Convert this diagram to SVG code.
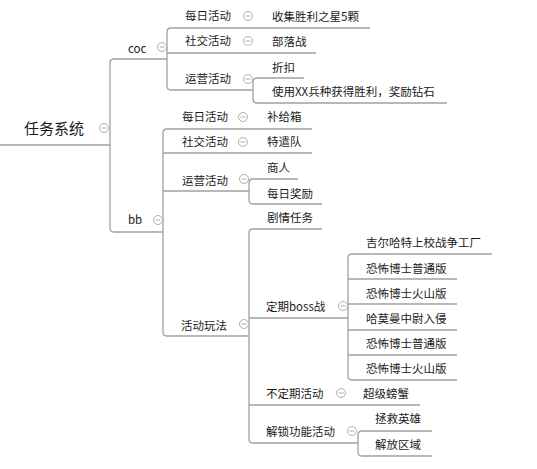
<svg xmlns="http://www.w3.org/2000/svg" width="537" height="469" viewBox="0 0 537 469">
<style>
text{font-family:"Noto Sans CJK SC","Microsoft YaHei",sans-serif;font-size:11.5px;fill:#1a1a1a}
.root{font-size:15px}
.ln{stroke:#a0a0a0;stroke-width:1.3;fill:none}
.c{fill:#fff;stroke:#b0b0b0;stroke-width:1}
.m{stroke:#b0b0b0;stroke-width:1}
</style>
<defs>
<g id="col"><circle class="c" cx="0" cy="0" r="4.5"/><line class="m" x1="-2.5" y1="0" x2="2.5" y2="0"/></g>
</defs>
<g id="connectors">
<path class="ln" d="M114,59 Q110,59 110,63 V228 Q110,232 114,232"/>
<path class="ln" d="M171,28 Q167,28 167,32 V86 Q167,90 171,90"/>
<path class="ln" d="M257,78 Q253,78 253,82 V99 Q253,103 257,103"/>
<path class="ln" d="M167,129 Q163,129 163,133 V332 Q163,336 167,336"/>
<path class="ln" d="M253,179 Q249,179 249,183 V200 Q249,204 253,204"/>
<path class="ln" d="M253,229 Q249,229 249,233 V439 Q249,443 253,443"/>
<path class="ln" d="M352,254 Q348,254 348,258 V376 Q348,380 352,380"/>
<path class="ln" d="M362,431 Q358,431 358,435 V452 Q358,456 362,456"/>
</g>
<g id="root"><text class="root" x="24" y="134">任务系统</text><path class="ln" d="M0,145 H110"/><use href="#col" x="104" y="128"/></g>
<g id="coc"><text x="128" y="53">coc</text><path class="ln" d="M114,59 H167"/><use href="#col" x="162" y="47"/></g>
<g id="coc-daily"><text x="185" y="20">每日活动</text><path class="ln" d="M171,28 H253"/><use href="#col" x="248" y="16"/></g>
<g id="coc-daily-1"><text x="272" y="21">收集胜利之星5颗</text><path class="ln" d="M253,28 H370"/></g>
<g id="coc-social"><text x="185" y="45">社交活动</text><path class="ln" d="M167,53 H253"/><use href="#col" x="248" y="41"/></g>
<g id="coc-social-1"><text x="272" y="46">部落战</text><path class="ln" d="M253,53 H316"/></g>
<g id="coc-ops"><text x="185" y="83">运营活动</text><path class="ln" d="M171,90 H253"/><use href="#col" x="248" y="79"/></g>
<g id="coc-ops-1"><text x="272" y="72">折扣</text><path class="ln" d="M257,78 H304"/></g>
<g id="coc-ops-2"><text x="272" y="96">使用XX兵种获得胜利，奖励钻石</text><path class="ln" d="M257,103 H447"/></g>
<g id="bb"><text x="128" y="224">bb</text><path class="ln" d="M114,232 H163"/><use href="#col" x="158" y="220"/></g>
<g id="bb-daily"><text x="182" y="121">每日活动</text><path class="ln" d="M167,129 H249"/><use href="#col" x="243" y="117"/></g>
<g id="bb-daily-1"><text x="267" y="121">补给箱</text><path class="ln" d="M249,129 H312"/></g>
<g id="bb-social"><text x="182" y="146">社交活动</text><path class="ln" d="M163,153 H249"/><use href="#col" x="243" y="142"/></g>
<g id="bb-social-1"><text x="267" y="146">特遣队</text><path class="ln" d="M249,153 H312"/></g>
<g id="bb-ops"><text x="182" y="185">运营活动</text><path class="ln" d="M163,191 H249"/><use href="#col" x="244" y="179"/></g>
<g id="bb-ops-1"><text x="267" y="172">商人</text><path class="ln" d="M253,179 H298"/></g>
<g id="bb-ops-2"><text x="267" y="198">每日奖励</text><path class="ln" d="M253,204 H322"/></g>
<g id="bb-play"><text x="181" y="330">活动玩法</text><path class="ln" d="M167,336 H249"/><use href="#col" x="244" y="324"/></g>
<g id="story"><text x="267" y="222">剧情任务</text><path class="ln" d="M253,229 H322"/></g>
<g id="boss"><text x="266" y="311">定期boss战</text><path class="ln" d="M249,318 H348"/><use href="#col" x="343" y="306"/></g>
<g id="boss-1"><text x="366" y="247">吉尔哈特上校战争工厂</text><path class="ln" d="M352,254 H492"/></g>
<g id="boss-2"><text x="366" y="273">恐怖博士普通版</text><path class="ln" d="M348,279 H457"/></g>
<g id="boss-3"><text x="366" y="298">恐怖博士火山版</text><path class="ln" d="M348,304 H457"/></g>
<g id="boss-4"><text x="366" y="323">哈莫曼中尉入侵</text><path class="ln" d="M348,330 H457"/></g>
<g id="boss-5"><text x="366" y="348">恐怖博士普通版</text><path class="ln" d="M348,355 H457"/></g>
<g id="boss-6"><text x="366" y="373">恐怖博士火山版</text><path class="ln" d="M352,380 H457"/></g>
<g id="irregular"><text x="266" y="398">不定期活动</text><path class="ln" d="M249,405 H350"/><use href="#col" x="341" y="393"/></g>
<g id="irregular-1"><text x="363" y="398">超级螃蟹</text><path class="ln" d="M350,405 H420"/></g>
<g id="unlock"><text x="266" y="436">解锁功能活动</text><path class="ln" d="M253,443 H358"/><use href="#col" x="352" y="431"/></g>
<g id="unlock-1"><text x="375" y="423">拯救英雄</text><path class="ln" d="M362,431 H432"/></g>
<g id="unlock-2"><text x="375" y="449">解放区域</text><path class="ln" d="M362,456 H432"/></g>
</svg>
